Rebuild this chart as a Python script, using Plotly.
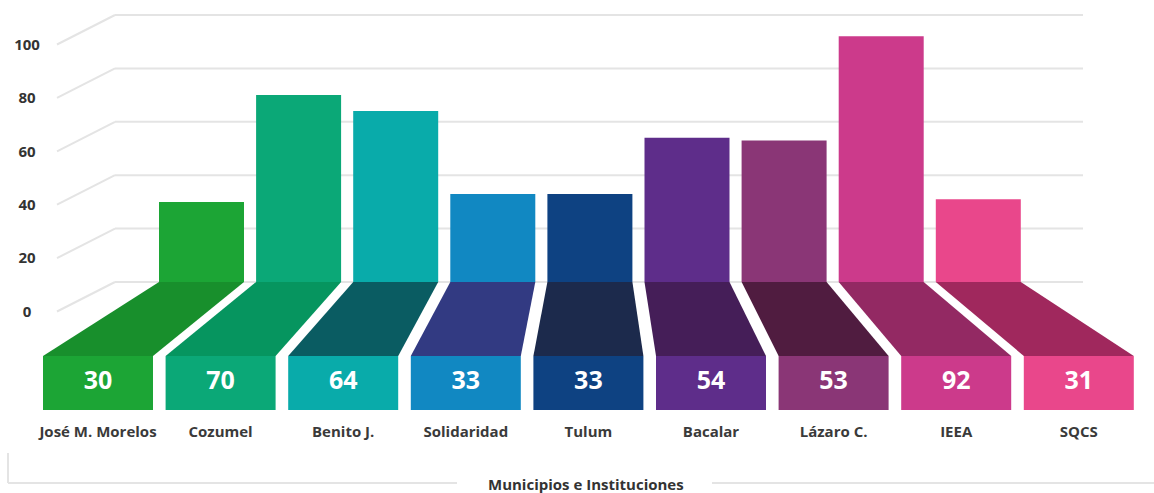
import plotly.graph_objects as go

# data
categories = ["José M. Morelos", "Cozumel", "Benito J.", "Solidaridad", "Tulum",
              "Bacalar", "Lázaro C.", "IEEA", "SQCS"]
values = [30, 70, 64, 33, 33, 54, 53, 92, 31]
bar_colors = ["#1CA535", "#0BA877", "#09ABAA", "#1188C2", "#0E4282",
              "#5E2D8A", "#8A3676", "#CC3A8B", "#E9478B"]
floor_colors = ["#188F2C", "#06955F", "#0A5C62", "#323A82", "#1C2A4C",
                "#451E58", "#501C40", "#932963", "#A0285D"]
tick_vals = [0, 20, 40, 60, 80, 100]
axis_title = "Municipios e Instituciones"

# layout geometry (pixels -> value units on the back plane)
W, H = 1154, 493
ZERO_PX = 282.0
K = (282.0 - 15.0) / 100.0


def py(p):
    return (ZERO_PX - p) / K


n = len(categories)
back_x = [201.5 + 97.1 * i for i in range(n)]
back_w = 85
front_x = [98 + 122.6 * i for i in range(n)]
front_w = 110
front_top = py(356)
front_bot = py(410)

FONT = "Open Sans"

fig = go.Figure()

# floors (perspective strips between back bars and front boxes)
for i in range(n):
    bl, br = back_x[i] - back_w / 2, back_x[i] + back_w / 2
    fl, fr = front_x[i] - front_w / 2, front_x[i] + front_w / 2
    fig.add_trace(go.Scatter(
        x=[bl, br, fr, fl, bl],
        y=[0, 0, front_top, front_top, 0],
        mode="lines", fill="toself", fillcolor=floor_colors[i],
        line=dict(width=0), hoverinfo="skip", showlegend=False
    ))

# back bars
fig.add_trace(go.Bar(
    x=back_x, y=values, width=back_w, base=0,
    marker=dict(color=bar_colors, line=dict(width=0)),
    hoverinfo="skip", showlegend=False
))

# front boxes
fig.add_trace(go.Bar(
    x=front_x, y=[front_bot - front_top] * n, base=front_top, width=front_w,
    marker=dict(color=bar_colors, line=dict(width=0)),
    hoverinfo="skip", showlegend=False
))

# value labels
fig.add_trace(go.Scatter(
    x=front_x, y=[(front_top + front_bot) / 2] * n,
    mode="text", text=[str(v) for v in values],
    textfont=dict(family=FONT, size=25, color="white", weight=700),
    hoverinfo="skip", showlegend=False
))

# category labels
fig.add_trace(go.Scatter(
    x=front_x, y=[py(433)] * n,
    mode="text", text=categories,
    textfont=dict(family=FONT, size=15, color="#3a3a3a", weight=700),
    hoverinfo="skip", showlegend=False
))

# y tick labels
fig.add_trace(go.Scatter(
    x=[27] * len(tick_vals), y=[v - 31 / K for v in tick_vals],
    mode="text", text=[str(v) for v in tick_vals],
    textfont=dict(family=FONT, size=15, color="#333333", weight=700),
    hoverinfo="skip", showlegend=False
))

# grid lines on the back plane + diagonals to the labels
grid_col = "#E4E4E4"
for v in tick_vals:
    fig.add_shape(type="line", x0=115, x1=1083, y0=v, y1=v, xref="x", yref="y",
                  line=dict(color=grid_col, width=2), layer="below")
    fig.add_shape(type="line", x0=57, x1=115, y0=v - 29.5 / K, y1=v, xref="x", yref="y",
                  line=dict(color=grid_col, width=2), layer="below")

# bottom bracket + axis title
fig.add_shape(type="line", x0=8, x1=8, y0=py(453), y1=py(483), xref="x", yref="y",
              line=dict(color=grid_col, width=2), layer="below")
fig.add_shape(type="line", x0=8, x1=457, y0=py(483), y1=py(483), xref="x", yref="y",
              line=dict(color=grid_col, width=2), layer="below")
fig.add_shape(type="line", x0=712, x1=W, y0=py(483), y1=py(483), xref="x", yref="y",
              line=dict(color=grid_col, width=2), layer="below")
fig.add_annotation(x=586, y=py(484), xref="x", yref="y", text=axis_title, showarrow=False,
                   font=dict(family=FONT, size=15, color="#333333", weight=700))

fig.update_layout(
    width=W, height=H,
    margin=dict(l=0, r=0, t=0, b=0),
    paper_bgcolor="white", plot_bgcolor="white",
    barmode="overlay",
    showlegend=False,
    xaxis=dict(range=[0, W], visible=False, fixedrange=True),
    yaxis=dict(range=[py(H), py(0)], visible=False, fixedrange=True),
)

fig.write_html("out.html", config=dict(displayModeBar=False),
               post_script="document.body.style.margin='0';document.body.style.overflow='hidden';")
